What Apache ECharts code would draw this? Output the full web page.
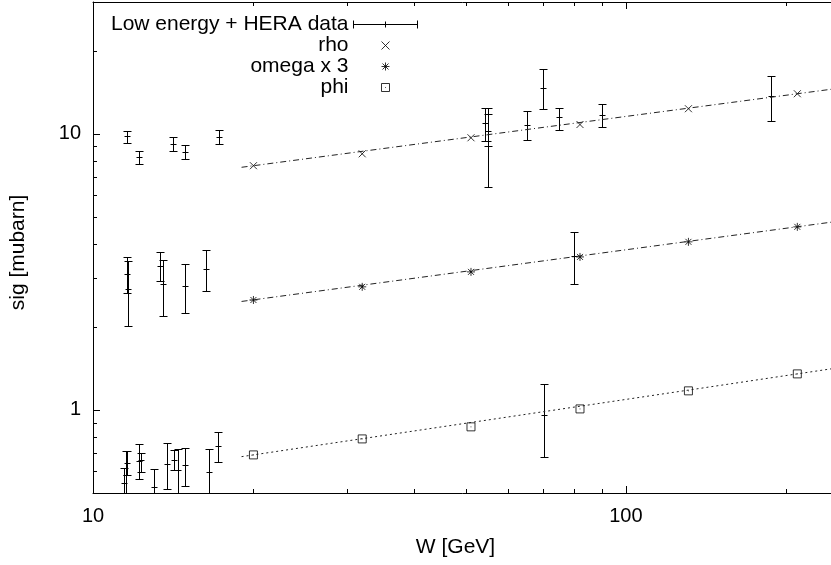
<!DOCTYPE html>
<html><head><meta charset="utf-8">
<script src="https://cdn.jsdelivr.net/npm/echarts/dist/echarts.min.js"></script>
<style>html,body{margin:0;padding:0;background:#fff}#c{width:831px;height:565px}</style>
</head><body><div id="c"></div>
<script>
const FONT = '"Liberation Sans", Arial, Helvetica, sans-serif';
// HERA points (plotted with symbols)
const heraW = [20, 32, 51.2, 82, 131, 209.7];
const rhoVals = [7.66, 8.46, 9.67, 10.8, 12.32, 13.96];
const omegaVals = [2.50, 2.79, 3.16, 3.58, 4.06, 4.60];
const phiVals = [0.687, 0.785, 0.868, 1.008, 1.172, 1.35];
// fit lines (end points)
const fitW = [19, 250];
const rhoFit = [7.56, 14.6];
const omegaFit = [2.47, 4.82];
const phiFit = [0.677, 1.42];
// Low energy + HERA data with error bars
const dataW  = [11.6,12.2,14.15,14.9,17.2, 54.5,55.2,55.0,65.1,70,75,90,187, 11.56,11.63,13.36,13.51,14.88,16.27, 80, 11.45,11.52,11.6,12.2,12.31,13.0,13.75,14.19,14.42,14.88,16.53,17.19, 70.2];
const dataS  = [9.83,8.23,9.2,8.58,9.73, 10.93,10.19,9.4,10.78,14.64,11.46,11.72,13.65, 3.11,2.74,3.32,2.85,2.81,3.23, 3.61, 0.545,0.581,0.644,0.653,0.659,0.525,0.636,0.659,0.606,0.632,0.595,0.742, 0.959];
const dataLo = [9.25,7.79,8.68,8.09,9.18, 9.38,9.05,6.44,9.51,12.29,10.34,10.54,11.08, 2.65,2.02,2.94,2.19,2.25,2.70, 2.85, 0.45,0.50,0.581,0.562,0.595,0.45,0.516,0.606,0.45,0.530,0.45,0.646, 0.676];
const dataHi = [10.23,8.68,9.70,9.07,10.28, 12.39,11.79,12.39,12.04,17.16,12.39,12.81,16.13, 3.59,3.45,3.72,3.50,3.38,3.78, 4.39, 0.618,0.71,0.71,0.751,0.697,0.61,0.757,0.716,0.722,0.730,0.722,0.830, 1.242];
// ticks and labels
const xMajorTicks = [10, 100];
const xMinorTicks = [20, 30, 40, 50, 60, 70, 80, 90, 200];
const yMajorTicks = [1, 10];
const yMinorTicks = [0.6, 0.7, 0.8, 0.9, 2, 3, 4, 5, 6, 7, 8, 9, 20];
const xLabelValues = [10, 100];
const yLabelValues = [1, 10];

const SYM_X = 'path://M0,0L7,7M7,0L0,7';
const SYM_AST = 'path://M0,4H8M4,0V8M1,1L7,7M7,1L1,7';
const SYM_SQ = 'path://M0,0H8V8H0ZM3.6,4H4.4';
const SYM_ERR = 'path://M0,0V8M0,4H64M64,0V8M32,1V7';

const chart = echarts.init(document.getElementById('c'), null, {renderer: 'canvas'});

function pairs(xs, ys) { return xs.map((x, i) => [x, ys[i]]); }
function labelFmt(list) {
  return function (v) {
    for (const t of list) if (Math.abs(v - t) / t < 1e-6) return String(t);
    return '';
  };
}

const tickData = [];
xMajorTicks.forEach(v => tickData.push([v, 1, 0, 7]));
xMinorTicks.forEach(v => tickData.push([v, 1, 0, 4]));
yMajorTicks.forEach(v => tickData.push([10, v, 1, 7]));
yMinorTicks.forEach(v => tickData.push([10, v, 1, 4]));

function renderTick(params, api) {
  const kind = api.value(2), len = api.value(3);
  const cs = params.coordSys;
  const st = {stroke: '#000', lineWidth: 1};
  if (kind === 0) {
    const x = Math.round(api.coord([api.value(0), api.value(1)])[0]) + 0.5;
    const b = cs.y + cs.height, t = cs.y;
    return {type: 'group', children: [
      {type: 'line', shape: {x1: x, y1: b, x2: x, y2: b - len}, style: st},
      {type: 'line', shape: {x1: x, y1: t, x2: x, y2: t + len}, style: st}
    ]};
  } else {
    const y = Math.round(api.coord([api.value(0), api.value(1)])[1]) + 0.5;
    const l = cs.x, r = cs.x + cs.width;
    return {type: 'group', children: [
      {type: 'line', shape: {x1: l, y1: y, x2: l + len, y2: y}, style: st},
      {type: 'line', shape: {x1: r, y1: y, x2: r - len, y2: y}, style: st}
    ]};
  }
}

function renderErr(params, api) {
  const w = api.value(0);
  const c = api.coord([w, api.value(1)]);
  const lo = api.coord([w, api.value(2)]);
  const hi = api.coord([w, api.value(3)]);
  const x = Math.round(c[0]) + 0.5;
  const cy = Math.round(c[1]) + 0.5;
  const ly = Math.round(lo[1]) + 0.5, hy = Math.round(hi[1]) + 0.5;
  const cs = params.coordSys;
  const st = {stroke: '#000', lineWidth: 1};
  return {type: 'group',
    clipPath: {type: 'rect', shape: {x: cs.x, y: cs.y, width: cs.width, height: cs.height}},
    children: [
      {type: 'line', shape: {x1: x, y1: hy, x2: x, y2: ly}, style: st},
      {type: 'line', shape: {x1: x - 4, y1: hy, x2: x + 4, y2: hy}, style: st},
      {type: 'line', shape: {x1: x - 4, y1: ly, x2: x + 4, y2: ly}, style: st},
      {type: 'line', shape: {x1: x - 3, y1: cy, x2: x + 3, y2: cy}, style: st}
    ]};
}

const errData = dataW.map((w, i) => [w, dataS[i], dataLo[i], dataHi[i]]);
const axisLineStyle = {color: '#000', width: 1};
const txt = {fontSize: 20, color: '#000', fontFamily: FONT};
const txtBig = {fontSize: 21, color: '#000', fontFamily: FONT};
const symStyle = {color: 'rgba(0,0,0,0)', borderColor: '#000', borderWidth: 1};

chart.setOption({
  animation: false,
  backgroundColor: '#fff',
  grid: {left: 93, top: 2, width: 745, height: 491, containLabel: false, outerBoundsMode: 'none'},
  legend: {
    orient: 'vertical', align: 'right', right: 413, top: 14, padding: 0, itemGap: 0,
    itemWidth: 64, itemHeight: 8, selectedMode: false,
    textStyle: txtBig,
    data: [
      {name: 'Low energy + HERA data', icon: SYM_ERR, itemStyle: symStyle},
      {name: 'rho', icon: SYM_X, itemStyle: symStyle},
      {name: 'omega x 3', icon: SYM_AST, itemStyle: symStyle},
      {name: 'phi', icon: SYM_SQ, itemStyle: symStyle}
    ]
  },
  xAxis: [
    {type: 'log', logBase: 10, min: 10, max: 250, position: 'bottom',
     axisLine: {show: true, lineStyle: axisLineStyle}, axisTick: {show: false}, splitLine: {show: false},
     axisLabel: Object.assign({margin: 13, formatter: labelFmt(xLabelValues), showMaxLabel: false}, txt),
     name: 'W [GeV]', nameLocation: 'middle', nameGap: 44,
     nameTextStyle: Object.assign({padding: [0, 20, 0, 0]}, txtBig)},
    {type: 'log', logBase: 10, min: 10, max: 250, position: 'top',
     axisLine: {show: true, lineStyle: axisLineStyle}, axisTick: {show: false}, splitLine: {show: false},
     axisLabel: {show: false}}
  ],
  yAxis: [
    {type: 'log', logBase: 10, min: 0.5, max: 30, position: 'left',
     axisLine: {show: true, lineStyle: axisLineStyle}, axisTick: {show: false}, splitLine: {show: false},
     axisLabel: Object.assign({margin: 12, formatter: labelFmt(yLabelValues), showMinLabel: false, showMaxLabel: false}, txt),
     name: 'sig [mubarn]', nameLocation: 'middle', nameGap: 64,
     nameTextStyle: Object.assign({padding: [0, 10, 0, 0]}, txtBig)},
    {type: 'log', logBase: 10, min: 0.5, max: 30, position: 'right',
     axisLine: {show: true, lineStyle: axisLineStyle}, axisTick: {show: false}, splitLine: {show: false},
     axisLabel: {show: false}}
  ],
  series: [
    {type: 'custom', name: 'ticks', silent: true, renderItem: renderTick, data: tickData,
     encode: {x: 0, y: 1}, z: 5},
    {type: 'line', name: 'rhoFit', data: pairs(fitW, rhoFit), showSymbol: false, silent: true,
     lineStyle: {color: '#222', width: 1, type: [6, 3, 1, 3]}},
    {type: 'line', name: 'omegaFit', data: pairs(fitW, omegaFit), showSymbol: false, silent: true,
     lineStyle: {color: '#222', width: 1, type: [6, 3, 1, 3]}},
    {type: 'line', name: 'phiFit', data: pairs(fitW, phiFit), showSymbol: false, silent: true,
     lineStyle: {color: '#222', width: 1, type: [2, 3]}},
    {type: 'custom', name: 'Low energy + HERA data', renderItem: renderErr, data: errData,
     encode: {x: 0, y: 1}, silent: true, itemStyle: {color: '#000'}},
    {type: 'scatter', name: 'rho', data: pairs(heraW, rhoVals), symbol: SYM_X, symbolSize: 7,
     itemStyle: symStyle, silent: true},
    {type: 'scatter', name: 'omega x 3', data: pairs(heraW, omegaVals), symbol: SYM_AST, symbolSize: 8,
     itemStyle: symStyle, silent: true},
    {type: 'scatter', name: 'phi', data: pairs(heraW, phiVals), symbol: SYM_SQ, symbolSize: 8,
     itemStyle: symStyle, silent: true}
  ]
});
</script></body></html>
